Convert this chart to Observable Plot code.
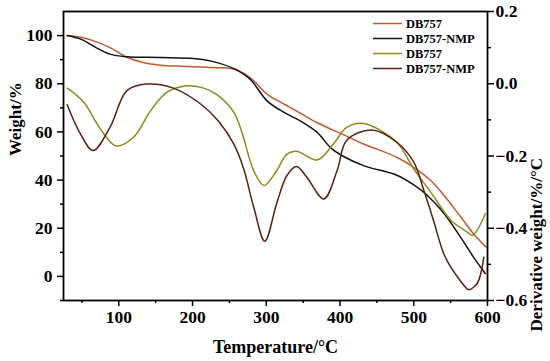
<!DOCTYPE html>
<html>
<head>
<meta charset="utf-8">
<script src="https://cdn.jsdelivr.net/npm/d3@7"></script>
<script src="https://cdn.jsdelivr.net/npm/@observablehq/plot@0.6"></script>
<style>
  html, body { margin: 0; padding: 0; background: #fff; }
  #wrap { position: relative; width: 550px; height: 361px; }
  #legend { position: absolute; left: 0; top: 0; }
</style>
</head>
<body>
<div id="wrap"></div>
<script>
// ---- Data ----
const seriesNames = ["DB757", "DB757-NMP", "DB757", "DB757-NMP"];
const seriesColors = ["#bf5a30", "#111111", "#8a8a1e", "#5b2010"];

// TG curves (weight %, left axis)
const tgT_DB757 = [30, 50, 65, 88, 111, 133, 156, 190, 224, 256, 278, 301, 324, 346, 369, 403, 432, 477, 500, 523, 540, 563, 581, 598];
const tgW_DB757 = [100, 99.2, 97.9, 95, 91, 88.8, 87.7, 87.2, 86.7, 86.1, 82.6, 75.7, 71.6, 67.8, 63.8, 59.1, 55, 49.5, 45.3, 39.8, 34, 25, 17.7, 12.2];

const tgT_NMP = [30, 50, 65, 88, 111, 156, 201, 224, 256, 278, 301, 324, 346, 369, 387, 403, 432, 477, 500, 516, 540, 563, 581, 597];
const tgW_NMP = [100, 98.3, 95.7, 92.3, 91.2, 90.9, 90.5, 89.5, 86.3, 81.9, 72.9, 68.1, 64.6, 59.8, 53.5, 50.1, 46, 42, 38, 34.3, 26.5, 16.5, 8, 1.2];

// DTG curves (derivative weight %/°C, right axis)
const dtgT_DB757 = [30, 52, 75, 96, 120, 143, 165, 190, 212, 233, 256, 267, 283, 297, 314, 328, 341, 369, 391, 409, 432, 477, 500, 523, 550, 572, 580, 597];
const dtgD_DB757 = [-0.012, -0.050, -0.125, -0.172, -0.148, -0.075, -0.024, -0.006, -0.010, -0.030, -0.079, -0.135, -0.241, -0.282, -0.241, -0.195, -0.187, -0.211, -0.167, -0.121, -0.110, -0.162, -0.236, -0.300, -0.377, -0.410, -0.419, -0.360];

const dtgT_NMP = [30, 48, 65, 88, 111, 138, 174, 211, 235, 256, 269, 283, 298, 314, 328, 341, 355, 378, 396, 409, 443, 477, 500, 514, 527, 540, 550, 572, 575, 586, 595];
const dtgD_NMP = [-0.058, -0.139, -0.185, -0.121, -0.019, -0.001, -0.012, -0.056, -0.103, -0.167, -0.233, -0.342, -0.436, -0.332, -0.254, -0.229, -0.259, -0.319, -0.241, -0.157, -0.128, -0.162, -0.217, -0.297, -0.380, -0.467, -0.507, -0.567, -0.570, -0.553, -0.480];

// Axes ticks
const xMajor = [100, 200, 300, 400, 500, 600];
const xMinor = [50, 150, 250, 350, 450, 550];
const yMajor = [0, 20, 40, 60, 80, 100];
const yMinor = [-10, 10, 30, 50, 70, 90];
const dMajor = [-0.6, -0.4, -0.2, 0.0, 0.2];
const dMinor = [-0.5, -0.3, -0.1, 0.1];

// Right axis (derivative) is aligned so that 0.0 ↔ 80 %, and 0.8 units span 120 %
const toLeft = d => 80 + 150 * d;
const toDer = v => (v - 80) / 150;

const zip = (T, V) => T.map((t, i) => ({t, v: V[i]}));
const tg1 = zip(tgT_DB757, tgW_DB757);
const tg2 = zip(tgT_NMP, tgW_NMP);
const dt1 = zip(dtgT_DB757, dtgD_DB757);
const dt2 = zip(dtgT_NMP, dtgD_NMP);

const fmt = d3.format(".1f");
const FONT = "Liberation Serif, Times New Roman, serif";

const chart = Plot.plot({
  width: 550,
  height: 361,
  marginLeft: 63,
  marginRight: 63,
  marginTop: 11,
  marginBottom: 61,
  x: {domain: [25, 600]},
  y: {domain: [-10, 110]},
  style: {fontFamily: FONT, fontWeight: "bold", fontSize: "17px", color: "black", background: "white"},
  marks: [
    Plot.axisX(xMajor, {tickSize: 6, tickPadding: 4, strokeWidth: 1.5, label: null, fontSize: 17.5}),
    Plot.axisX(xMinor, {tickSize: 3, strokeWidth: 1.5, tickFormat: () => "", label: null}),
    Plot.axisY(yMajor, {anchor: "left", tickSize: 6, tickPadding: 5, strokeWidth: 1.5, label: null, fontSize: 17.5}),
    Plot.axisY(yMinor, {anchor: "left", tickSize: 3, strokeWidth: 1.5, tickFormat: () => "", label: null}),
    Plot.axisY(dMajor.map(toLeft), {anchor: "right", tickSize: 6, tickPadding: 2, strokeWidth: 1.5, tickFormat: v => fmt(toDer(v)), label: null, fontSize: 17.5}),
    Plot.axisY(dMinor.map(toLeft), {anchor: "right", tickSize: 3, strokeWidth: 1.5, tickFormat: () => "", label: null}),
    Plot.line(tg1, {x: "t", y: "v", stroke: seriesColors[0], strokeWidth: 1.5, curve: "catmull-rom"}),
    Plot.line(tg2, {x: "t", y: "v", stroke: seriesColors[1], strokeWidth: 1.5, curve: "catmull-rom"}),
    Plot.line(dt1, {x: "t", y: d => toLeft(d.v), stroke: seriesColors[2], strokeWidth: 1.5, curve: "catmull-rom"}),
    Plot.line(dt2, {x: "t", y: d => toLeft(d.v), stroke: seriesColors[3], strokeWidth: 1.5, curve: "catmull-rom"}),
    Plot.frame({stroke: "black", strokeWidth: 1.8}),
    Plot.text(["Temperature/°C"], {frameAnchor: "bottom", dy: 47, fontSize: 18, fontWeight: "bold", lineAnchor: "middle"}),
    Plot.text(["Weight/%"], {frameAnchor: "left", dx: -48, rotate: -90, fontSize: 17, fontWeight: "bold", lineAnchor: "middle"}),
    Plot.text(["Derivative weight/%/°C"], {frameAnchor: "right", dx: 49, dy: 2, rotate: -90, fontSize: 17, fontWeight: "bold", lineAnchor: "middle"})
  ]
});

const wrap = document.getElementById("wrap");
wrap.appendChild(chart);

// Legend overlay (top-right, inside the frame)
const leg = d3.select(wrap).append("svg")
  .attr("id", "legend")
  .attr("width", 550).attr("height", 361)
  .style("pointer-events", "none");
seriesNames.forEach((name, i) => {
  const y = 23.5 + 15 * i;
  leg.append("line")
    .attr("x1", 373).attr("x2", 402).attr("y1", y).attr("y2", y)
    .attr("stroke", seriesColors[i]).attr("stroke-width", 1.5);
  leg.append("text")
    .attr("x", 406).attr("y", y).attr("dy", "0.35em")
    .attr("font-family", FONT).attr("font-weight", "bold").attr("font-size", 12.5)
    .attr("fill", "black")
    .text(name);
});
</script>
</body>
</html>
